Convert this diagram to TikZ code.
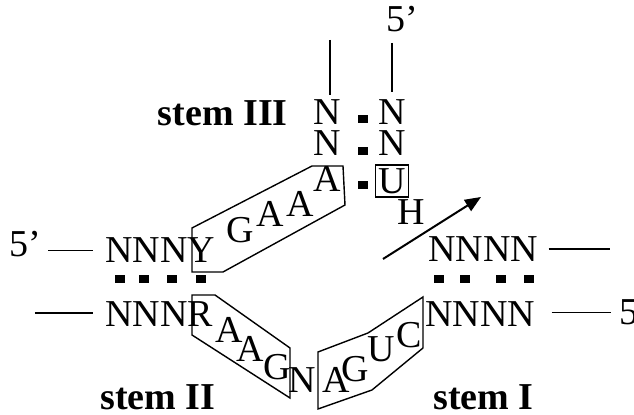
\documentclass[tikz,border=0pt]{standalone}
\usepackage{fontspec}
\setmainfont{Liberation Serif}
\usetikzlibrary{arrows.meta,positioning}

\begin{document}
\begin{tikzpicture}[x=0.5pt,y=-0.5pt,>={Triangle[length=8pt,width=6.5pt]}]
\tikzstyle{nt}=[inner sep=0pt,anchor=base,font=\fontsize{19}{19}\selectfont]
\tikzstyle{seq}=[nt,anchor=base west]
\tikzstyle{lbl}=[inner sep=0pt,anchor=base west,font=\fontsize{19}{19}\selectfont\bfseries]
\tikzstyle{pair}=[fill=black,minimum width=5pt,minimum height=4pt,inner sep=0pt]
\tikzstyle{strand}=[line width=0.7pt]
\tikzstyle{loopbox}=[line width=0.7pt]
\useasboundingbox (0,0) rectangle (634,415);

% stem III
\node[lbl,anchor=base east] (s3) at (288,126) {stem III};
\node[nt] (n1l) at (327,125) {N};
\node[nt] (n1r) at (392,125) {N};
\node[nt] (n2l) at (327,156) {N};
\node[nt] (n2r) at (392,156) {N};
\node[nt] (a4) at (327,192) {A};
\node[nt,draw,line width=0.7pt,anchor=center,minimum width=16.5pt,minimum height=16pt] (u1) at (392,181) {U};
\node[nt] (h1) at (411,225) {H};
\node[nt] (p5t) at (402,32) {5'};
\coordinate (top3) at (330,40);
\draw[strand,shorten >=2.5pt] (top3) -- (top3 |- n1l.north);
\draw[strand,shorten <=5pt,shorten >=4pt] (n1r.north |- p5t.south) -- (n1r.north);
\foreach \y in {119,151,185}
    \node[pair] at (363,\y) {};

% stem II
\node[seq] (p5l) at (9,257) {5'};
\node[seq] (nnny) at (105,263) {NNNY};
\node[seq] (nnnr) at (105,327) {NNNR};
\coordinate (e2) at (35,313);
\draw[strand,shorten <=3.5pt,shorten >=6pt] (p5l.east |- nnny.west) -- (nnny.west);
\draw[strand,shorten >=6pt] (e2) -- (e2 -| nnnr.west);
\foreach \x in {120,144,172,201}
    \node[pair] at (\x,279) {};
\node[lbl] (s2) at (100,410) {stem II};

% stem I
\node[seq] (nnnt) at (428,262) {NNNN};
\node[seq] (nnnb) at (425,327) {NNNN};
\node[seq] (p5r) at (619,325) {5};
\coordinate (e1) at (610,249);
\draw[strand,shorten <=5pt] (nnnt.east |- e1) -- (e1);
\draw[strand,shorten <=8pt,shorten >=4pt] (nnnb.east |- p5r.west) -- (p5r.west);
\foreach \x in {439,465,501,529}
    \node[pair] at (\x,279) {};
\node[lbl] (s1) at (433,410) {stem I};

% loop letters
\node[nt] (g1) at (240,243) {G};
\node[nt] (a1) at (270,227) {A};
\node[nt] (a2) at (300,217) {A};
\node[nt] (a5) at (229,343) {A};
\node[nt] (a6) at (250,362) {A};
\node[nt] (g2) at (277,380) {G};
\node[nt] (nn) at (302,393) {N};
\node[nt] (a7) at (336,393) {A};
\node[nt] (g3) at (355,382) {G};
\node[nt] (u2) at (381,362) {U};
\node[nt] (c1) at (409,348) {C};

% boxes
\draw[loopbox] (192,228) -- (312,166) -- (343,166) -- (345,205) -- (223,272) -- (192,272) -- cycle;
\draw[loopbox] (192,295) -- (215,295) -- (290,348) -- (290,398) -- (192,335) -- cycle;
\draw[loopbox] (318,352) -- (368,333) -- (423,297) -- (423,348) -- (372,390) -- (318,409) -- cycle;

% cleavage
\coordinate (ar0) at (383,259);
\coordinate (ar1) at (481,197);
\draw[->,line width=1pt] (ar0) -- (ar1);
\end{tikzpicture}
\end{document}
